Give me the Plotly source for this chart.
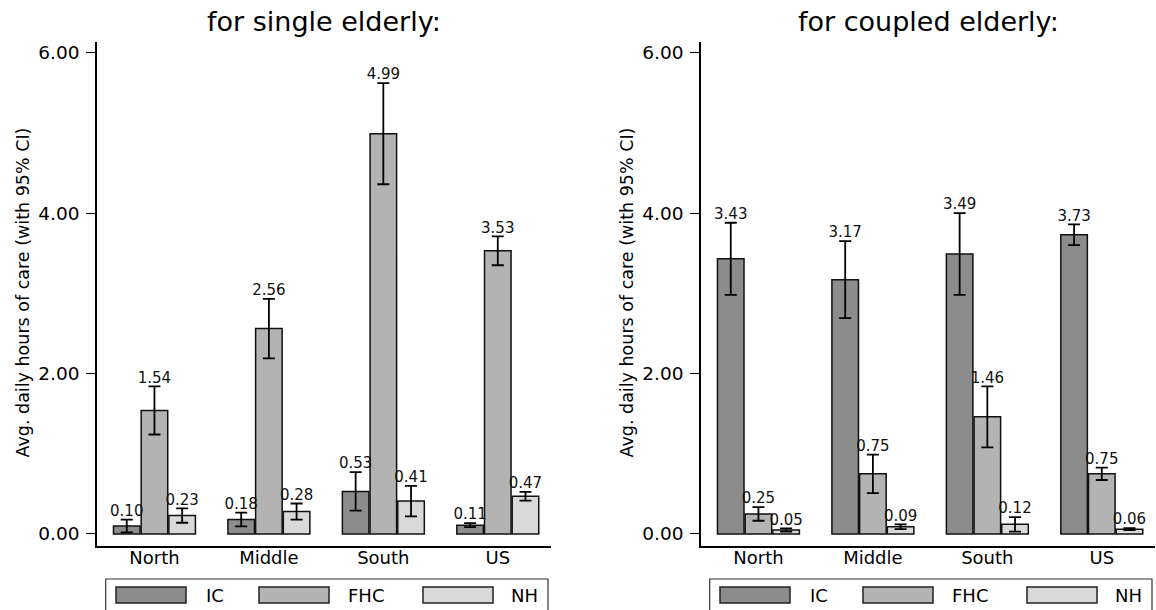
import plotly.graph_objects as go

# ---------------- data ----------------
categories = ["North", "Middle", "South", "US"]
series_names = ["IC", "FHC", "NH"]
series_colors = ["#8c8c8c", "#b3b3b3", "#d9d9d9"]

single_ic = [0.10, 0.18, 0.53, 0.11]
single_ic_ci = [0.08, 0.085, 0.24, 0.025]
single_fhc = [1.54, 2.56, 4.99, 3.53]
single_fhc_ci = [0.30, 0.37, 0.63, 0.18]
single_nh = [0.23, 0.28, 0.41, 0.47]
single_nh_ci = [0.09, 0.10, 0.19, 0.055]

coupled_ic = [3.43, 3.17, 3.49, 3.73]
coupled_ic_ci = [0.45, 0.48, 0.51, 0.13]
coupled_fhc = [0.25, 0.75, 1.46, 0.75]
coupled_fhc_ci = [0.085, 0.24, 0.38, 0.077]
coupled_nh = [0.05, 0.09, 0.12, 0.06]
coupled_nh_ci = [0.02, 0.03, 0.09, 0.012]

panel_titles = ["for single elderly:", "for coupled elderly:"]
y_title = "Avg. daily hours of care (with 95% CI)"
y_ticks = [0, 2, 4, 6]

panels = [
    [(single_ic, single_ic_ci), (single_fhc, single_fhc_ci), (single_nh, single_nh_ci)],
    [(coupled_ic, coupled_ic_ci), (coupled_fhc, coupled_fhc_ci), (coupled_nh, coupled_nh_ci)],
]

# ---------------- layout helpers ----------------
W, H = 1156, 610
FONT = "DejaVu Sans"


def px(x):
    return x / W


def py(y):
    return 1 - y / H


panel_left = [97, 701]
panel_right = [551, 1155]
plot_top, plot_bottom = 41.7, 546

bar_step = 0.242
bar_width = 0.232

fig = go.Figure()

for p, groups in enumerate(panels):
    xa = "x" if p == 0 else "x2"
    ya = "y" if p == 0 else "y2"
    for k, (vals, ci) in enumerate(groups):
        xs = [i + (k - 1) * bar_step for i in range(len(categories))]
        fig.add_trace(go.Bar(
            x=xs, y=vals, width=bar_width,
            marker=dict(color=series_colors[k], line=dict(color="#111111", width=1.5)),
            error_y=dict(type="data", array=ci, visible=True, color="black",
                         thickness=1.8, width=6),
            name=series_names[k], showlegend=False,
            xaxis=xa, yaxis=ya, hoverinfo="skip",
        ))
    for k, (vals, ci) in enumerate(groups):
        xs = [i + (k - 1) * bar_step for i in range(len(categories))]
        tops = [v + c for v, c in zip(vals, ci)]
        fig.add_trace(go.Scatter(
            x=xs, y=tops, mode="text",
            text=[f"{v:.2f}" for v in vals],
            textposition="top center",
            textfont=dict(family=FONT, size=15, color="#111111"),
            showlegend=False, xaxis=xa, yaxis=ya, hoverinfo="skip",
        ))

axis_common_x = dict(
    range=[-0.502, 3.465], tickvals=list(range(len(categories))), ticktext=categories,
    showline=True, linecolor="black", linewidth=1.5, ticks="", showgrid=False,
    zeroline=False, tickfont=dict(family=FONT, size=18, color="black"),
    ticklabelstandoff=-5,
)
axis_common_y = dict(
    range=[-0.15, 6.137], tickvals=y_ticks, tickformat=".2f",
    showline=True, linecolor="black", linewidth=1.5, ticks="outside", ticklen=9,
    tickwidth=1, tickcolor="black", showgrid=False, zeroline=False,
    tickfont=dict(family=FONT, size=18.5, color="black"), ticklabelstandoff=3,
)

fig.update_layout(
    width=W, height=H, margin=dict(l=0, r=0, t=0, b=0),
    paper_bgcolor="white", plot_bgcolor="white",
    barmode="overlay", showlegend=False,
    xaxis=dict(domain=[px(panel_left[0]), px(panel_right[0])], anchor="y", **axis_common_x),
    yaxis=dict(domain=[py(plot_bottom), py(plot_top)], anchor="x", **axis_common_y),
    xaxis2=dict(domain=[px(panel_left[1]), px(panel_right[1])], anchor="y2", **axis_common_x),
    yaxis2=dict(domain=[py(plot_bottom), py(plot_top)], anchor="x2", **axis_common_y),
)

annotations = []
shapes = []
for p in range(2):
    off = panel_left[p] - panel_left[0]
    cx = (panel_left[p] + panel_right[p]) / 2
    annotations.append(dict(
        text=panel_titles[p], x=px(cx), y=py(22), xref="paper", yref="paper",
        xanchor="center", yanchor="middle", showarrow=False,
        font=dict(family=FONT, size=27, color="black"),
    ))
    annotations.append(dict(
        text=y_title, x=px(22 + off), y=py(292.5), xref="paper", yref="paper",
        xanchor="center", yanchor="middle", showarrow=False, textangle=-90,
        font=dict(family=FONT, size=17.5, color="black"),
    ))
    # legend frame: open at the bottom (cut off by the image edge in the original)
    lx0, lx1, ly0, ly1 = px(105.7 + off), px(548 + off), py(579), py(615)
    shapes.append(dict(type="path", xref="paper", yref="paper",
                       path=f"M {lx0},{ly1} L {lx0},{ly0} L {lx1},{ly0} L {lx1},{ly1}",
                       line=dict(color="#333333", width=1.2)))
    sym_x = [116, 259, 423]
    txt_x = [204, 345.5, 509]
    for k in range(3):
        shapes.append(dict(type="rect", xref="paper", yref="paper",
                           x0=px(sym_x[k] + off), x1=px(sym_x[k] + 70 + off),
                           y0=py(603), y1=py(587),
                           line=dict(color="#222222", width=1.5),
                           fillcolor=series_colors[k]))
        annotations.append(dict(
            text=series_names[k], x=px(txt_x[k] + off), y=py(595),
            xref="paper", yref="paper", xanchor="left", yanchor="middle",
            showarrow=False, font=dict(family=FONT, size=18, color="black"),
        ))

fig.update_layout(annotations=annotations, shapes=shapes)
fig.write_html(
    "out.html",
    config={"displayModeBar": False},
    post_script="document.body.style.margin='0px';document.body.style.overflow='hidden';",
)
